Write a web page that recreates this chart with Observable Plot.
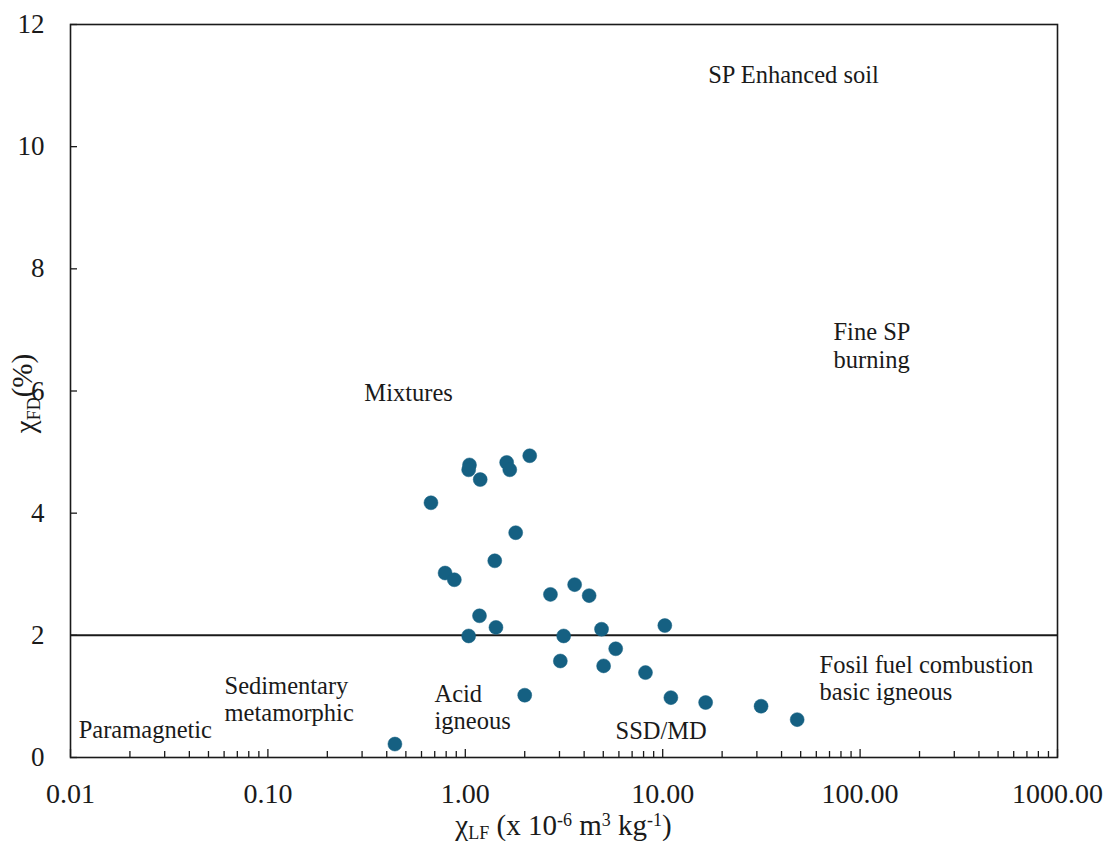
<!DOCTYPE html>
<html>
<head>
<meta charset="utf-8">
<script src="https://cdn.jsdelivr.net/npm/d3@7"></script>
<script src="https://cdn.jsdelivr.net/npm/@observablehq/plot@0.6"></script>
<style>
  html, body { margin: 0; padding: 0; background: #ffffff; }
  #chart svg { display: block; }
  #chart svg text, #chart svg tspan { font-family: "Liberation Serif", "Times New Roman", Times, serif; }
</style>
</head>
<body>
<div id="chart"></div>
<script>
// ---- data ----
const chiLF = [2.12, 1.05, 1.04, 1.19, 1.62, 1.68, 0.67, 1.80, 1.41, 0.79,
               0.88, 2.70, 3.58, 4.24, 1.18, 1.43, 1.04, 3.15, 4.90, 10.25,
               5.78, 3.03, 5.02, 8.18, 2.00, 11.0, 0.44, 16.5, 31.5, 48.0];
const chiFD = [4.94, 4.79, 4.71, 4.55, 4.83, 4.71, 4.17, 3.68, 3.22, 3.02,
               2.91, 2.67, 2.83, 2.65, 2.32, 2.13, 1.99, 1.99, 2.10, 2.16,
               1.78, 1.58, 1.50, 1.39, 1.02, 0.98, 0.22, 0.90, 0.84, 0.62];

const threshold = 2;

const xMajorTicks = [0.01, 0.1, 1, 10, 100, 1000];
const xMinorMultipliers = [2, 3, 4, 5, 6, 7, 8, 9];
const yTicks = [0, 2, 4, 6, 8, 10, 12];

// zone annotations (data coordinates)
const centeredLabels = ["SP Enhanced soil", "Mixtures"];
const centeredX = [46, 0.516];
const centeredY = [11.17, 5.96];

const leftLabels = ["Fine SP\nburning", "Fosil fuel combustion\nbasic igneous",
                    "Sedimentary\nmetamorphic", "Acid\nigneous", "SSD/MD", "Paramagnetic"];
const leftX = [73.3, 62.3, 0.0603, 0.698, 5.77, 0.011];
const leftY = [6.75, 1.31, 0.96, 0.835, 0.44, 0.46];

// ---- tables built from the arrays ----
const points = chiLF.map((x, i) => ({x, y: chiFD[i]}));
const centered = centeredLabels.map((t, i) => ({t, x: centeredX[i], y: centeredY[i]}));
const lefts = leftLabels.map((t, i) => ({t, x: leftX[i], y: leftY[i]}));
const xMinorTicks = xMajorTicks.slice(0, -1).flatMap(d => xMinorMultipliers.map(m => d * m));

const ink = "#1a1a1a";
const serif = "Liberation Serif";
const fmt2 = d3.format(".2f");
const fmtInt = d3.format("d");

function axisTitles(index, scales, values, dims) {
  const g = d3.create("svg:g")
    .attr("font-family", serif)
    .attr("fill", ink);
  // x title
  const cx = (dims.marginLeft + dims.width - dims.marginRight) / 2;
  const tx = g.append("text")
    .attr("x", cx)
    .attr("y", dims.height - dims.marginBottom + 78)
    .attr("text-anchor", "middle")
    .attr("font-size", 29);
  tx.append("tspan").text("χ");
  tx.append("tspan").attr("font-size", 18).attr("dy", 4).text("LF");
  tx.append("tspan").attr("dy", -4).text(" (x 10");
  tx.append("tspan").attr("font-size", 18).attr("dy", -9).text("-6");
  tx.append("tspan").attr("dy", 9).text(" m");
  tx.append("tspan").attr("font-size", 18).attr("dy", -9).text("3");
  tx.append("tspan").attr("dy", 9).text(" kg");
  tx.append("tspan").attr("font-size", 18).attr("dy", -9).text("-1");
  tx.append("tspan").attr("dy", 9).text(")");
  // y title
  const cy = (dims.marginTop + dims.height - dims.marginBottom) / 2 + 3;
  const ty = g.append("text")
    .attr("transform", `translate(${dims.marginLeft - 35},${cy}) rotate(-90)`)
    .attr("text-anchor", "middle")
    .attr("font-size", 29);
  ty.append("tspan").text("χ");
  ty.append("tspan").attr("font-size", 18).attr("dy", 5).text("FD");
  ty.append("tspan").attr("dy", -8).text("(%)");
  return g.node();
}

const chart = Plot.plot({
  width: 1110,
  height: 841,
  marginTop: 24,
  marginRight: 53,
  marginBottom: 84,
  marginLeft: 70,
  style: {
    fontFamily: serif,
    color: ink,
    background: "#ffffff",
    overflow: "visible"
  },
  x: { type: "log", domain: [0.01, 1000] },
  y: { domain: [0, 12] },
  marks: [
    Plot.ruleY([threshold], { stroke: ink, strokeWidth: 2 }),
    // inward ticks
    Plot.axisY(yTicks, { anchor: "left", tickSize: 7, dx: 7, tickFormat: () => "", label: null, stroke: ink, strokeWidth: 1.3 }),
    Plot.axisX(xMajorTicks, { anchor: "bottom", tickSize: 8, dy: -8, tickFormat: () => "", label: null, stroke: ink, strokeWidth: 1.3 }),
    Plot.axisX(xMinorTicks, { anchor: "bottom", tickSize: 6, dy: -6, tickFormat: () => "", label: null, stroke: ink, strokeWidth: 1.3 }),
    // tick labels
    Plot.axisY(yTicks, { anchor: "left", tickSize: 0, tickPadding: 26, fontSize: 27, fontFamily: serif, tickFormat: fmtInt, label: null }),
    Plot.axisX(xMajorTicks, { anchor: "bottom", tickSize: 0, tickPadding: 26, fontSize: 28, fontFamily: serif, tickFormat: fmt2, label: null }),
    Plot.frame({ stroke: ink, strokeWidth: 1.6 }),
    Plot.dot(points, { x: "x", y: "y", r: 7, fill: "#156082", stroke: "#156082", strokeWidth: 0.5 }),
    Plot.text(centered, { x: "x", y: "y", text: "t", textAnchor: "middle", fontSize: 24.5, fontFamily: serif, fill: ink }),
    Plot.text(lefts, { x: "x", y: "y", text: "t", textAnchor: "start", fontSize: 24.5, fontFamily: serif, lineHeight: 1.12, lineAnchor: "middle", fill: ink }),
    axisTitles
  ]
});

document.getElementById("chart").appendChild(chart);
</script>
</body>
</html>
